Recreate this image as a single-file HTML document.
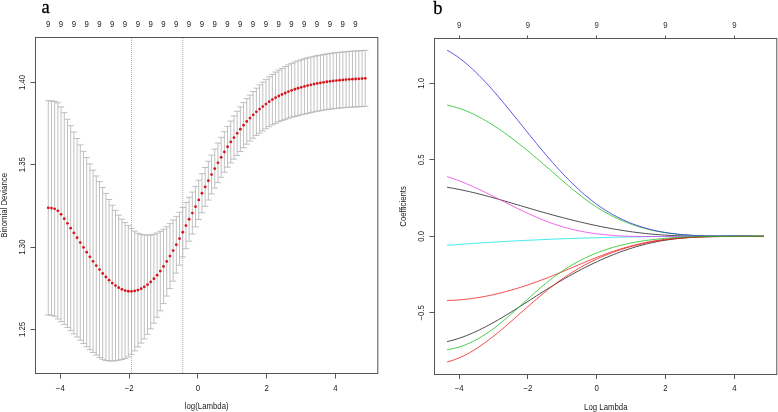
<!DOCTYPE html>
<html><head><meta charset="utf-8"><style>
html,body{margin:0;padding:0;background:#fff;}
body{width:778px;height:412px;overflow:hidden;position:relative;font-family:"Liberation Sans", sans-serif;}

</style></head><body>
<svg width="778" height="412" viewBox="0 0 778 412" style="position:absolute;left:0;top:0"><rect x="0" y="0" width="778" height="412" fill="#fff"/><path d="M48.25 100.69V314.91M45.08 100.69H51.42M45.08 314.91H51.42M51.45 100.84V315.31M48.28 100.84H54.62M48.28 315.31H54.62M54.65 101.37V316.31M51.48 101.37H57.82M51.48 316.31H57.82M57.86 102.72V318.97M54.69 102.72H61.03M54.69 318.97H61.03M61.06 106.91V321.70M57.89 106.91H64.23M57.89 321.70H64.23M64.26 112.72V324.57M61.09 112.72H67.43M61.09 324.57H67.43M67.46 119.25V327.44M64.29 119.25H70.63M64.29 327.44H70.63M70.66 125.68V330.61M67.49 125.68H73.83M67.49 330.61H73.83M73.87 131.99V333.91M70.70 131.99H77.04M70.70 333.91H77.04M77.07 138.49V337.02M73.90 138.49H80.24M73.90 337.02H80.24M80.27 144.89V340.22M77.10 144.89H83.44M77.10 340.22H83.44M83.47 151.33V343.46M80.30 151.33H86.64M80.30 343.46H86.64M86.67 157.60V346.82M83.50 157.60H89.84M83.50 346.82H89.84M89.88 163.94V349.76M86.71 163.94H93.05M86.71 349.76H93.05M93.08 170.13V352.46M89.91 170.13H96.25M89.91 352.46H96.25M96.28 175.99V355.11M93.11 175.99H99.45M93.11 355.11H99.45M99.48 181.62V357.58M96.31 181.62H102.65M96.31 357.58H102.65M102.68 187.56V359.30M99.51 187.56H105.85M99.51 359.30H105.85M105.89 193.42V360.55M102.72 193.42H109.06M102.72 360.55H109.06M109.09 199.47V360.95M105.92 199.47H112.26M105.92 360.95H112.26M112.29 205.23V360.95M109.12 205.23H115.46M109.12 360.95H115.46M115.49 210.39V360.75M112.32 210.39H118.66M112.32 360.75H118.66M118.69 215.12V360.18M115.52 215.12H121.86M115.52 360.18H121.86M121.90 219.18V359.52M118.73 219.18H125.07M118.73 359.52H125.07M125.10 222.57V358.58M121.93 222.57H128.27M121.93 358.58H128.27M128.30 225.55V356.95M125.13 225.55H131.47M125.13 356.95H131.47M131.50 228.38V354.37M128.33 228.38H134.67M128.33 354.37H134.67M134.70 231.08V350.87M131.53 231.08H137.87M131.53 350.87H137.87M137.91 233.26V346.85M134.74 233.26H141.08M134.74 346.85H141.08M141.11 234.34V343.08M137.94 234.34H144.28M137.94 343.08H144.28M144.31 234.98V338.92M141.14 234.98H147.48M141.14 338.92H147.48M147.51 235.02V334.35M144.34 235.02H150.68M144.34 334.35H150.68M150.71 235.05V328.80M147.54 235.05H153.88M147.54 328.80H153.88M153.92 234.25V323.22M150.75 234.25H157.09M150.75 323.22H157.09M157.12 232.99V317.26M153.95 232.99H160.29M153.95 317.26H160.29M160.32 231.32V310.79M157.15 231.32H163.49M157.15 310.79H163.49M163.52 229.30V303.59M160.35 229.30H166.69M160.35 303.59H166.69M166.72 226.70V296.06M163.55 226.70H169.89M163.55 296.06H169.89M169.93 223.62V288.59M166.76 223.62H173.10M166.76 288.59H173.10M173.13 220.02V281.18M169.96 220.02H176.30M169.96 281.18H176.30M176.33 216.38V273.15M173.16 216.38H179.50M173.16 273.15H179.50M179.53 212.23V265.19M176.36 212.23H182.70M176.36 265.19H182.70M182.73 207.45V257.01M179.56 207.45H185.90M179.56 257.01H185.90M185.94 202.41V248.71M182.77 202.41H189.11M182.77 248.71H189.11M189.14 197.30V241.21M185.97 197.30H192.31M185.97 241.21H192.31M192.34 192.08V234.11M189.17 192.08H195.51M189.17 234.11H195.51M195.54 186.42V226.85M192.37 186.42H198.71M192.37 226.85H198.71M198.74 180.19V219.57M195.57 180.19H201.91M195.57 219.57H201.91M201.95 173.69V212.78M198.78 173.69H205.12M198.78 212.78H205.12M205.15 167.49V206.29M201.98 167.49H208.32M201.98 206.29H208.32M208.35 161.26V200.06M205.18 161.26H211.52M205.18 200.06H211.52M211.55 155.16V193.96M208.38 155.16H214.72M208.38 193.96H214.72M214.76 149.10V188.16M211.59 149.10H217.93M211.59 188.16H217.93M217.96 143.10V182.64M214.79 143.10H221.13M214.79 182.64H221.13M221.16 137.33V177.37M217.99 137.33H224.33M217.99 177.37H224.33M224.36 131.72V172.26M221.19 131.72H227.53M221.19 172.26H227.53M227.56 126.35V167.20M224.39 126.35H230.73M224.39 167.20H230.73M230.77 121.03V162.86M227.60 121.03H233.94M227.60 162.86H233.94M233.97 115.92V159.14M230.80 115.92H237.14M230.80 159.14H237.14M237.17 111.25V155.41M234.00 111.25H240.34M234.00 155.41H240.34M240.37 106.92V151.51M237.20 106.92H243.54M237.20 151.51H243.54M243.57 102.59V147.77M240.40 102.59H246.74M240.40 147.77H246.74M246.78 98.64V144.23M243.61 98.64H249.95M243.61 144.23H249.95M249.98 95.08V141.06M246.81 95.08H253.15M246.81 141.06H253.15M253.18 91.53V138.21M250.01 91.53H256.35M250.01 138.21H256.35M256.38 88.16V135.43M253.21 88.16H259.55M253.21 135.43H259.55M259.58 84.87V133.24M256.41 84.87H262.75M256.41 133.24H262.75M262.79 82.12V130.97M259.62 82.12H265.96M259.62 130.97H265.96M265.99 79.36V128.74M262.82 79.36H269.16M262.82 128.74H269.16M269.19 76.71V126.71M266.02 76.71H272.36M266.02 126.71H272.36M272.39 74.41V124.81M269.22 74.41H275.56M269.22 124.81H275.56M275.59 72.12V123.32M272.42 72.12H278.76M272.42 123.32H278.76M278.80 70.21V121.82M275.63 70.21H281.97M275.63 121.82H281.97M282.00 68.45V120.48M278.83 68.45H285.17M278.83 120.48H285.17M285.20 66.58V119.38M282.03 66.58H288.37M282.03 119.38H288.37M288.40 64.94V118.16M285.23 64.94H291.57M285.23 118.16H291.57M291.60 63.39V117.21M288.43 63.39H294.77M288.43 117.21H294.77M294.81 62.04V116.44M291.64 62.04H297.98M291.64 116.44H297.98M298.01 60.87V115.67M294.84 60.87H301.18M294.84 115.67H301.18M301.21 59.80V114.81M298.04 59.80H304.38M298.04 114.81H304.38M304.41 58.70V114.10M301.24 58.70H307.58M301.24 114.10H307.58M307.61 57.85V113.35M304.44 57.85H310.78M304.44 113.35H310.78M310.82 57.05V112.65M307.65 57.05H313.99M307.65 112.65H313.99M314.02 56.30V111.90M310.85 56.30H317.19M310.85 111.90H317.19M317.22 55.66V111.26M314.05 55.66H320.39M314.05 111.26H320.39M320.42 55.13V110.73M317.25 55.13H323.59M317.25 110.73H323.59M323.62 54.52V110.16M320.45 54.52H326.79M320.45 110.16H326.79M326.83 53.93V109.59M323.66 53.93H330.00M323.66 109.59H330.00M330.03 53.45V109.15M326.86 53.45H333.20M326.86 109.15H333.20M333.23 53.03V108.77M330.06 53.03H336.40M330.06 108.77H336.40M336.43 52.65V108.41M333.26 52.65H339.60M333.26 108.41H339.60M339.63 52.31V108.10M336.46 52.31H342.80M336.46 108.10H342.80M342.84 51.99V107.82M339.67 51.99H346.01M339.67 107.82H346.01M346.04 51.68V107.53M342.87 51.68H349.21M342.87 107.53H349.21M349.24 51.39V107.26M346.07 51.39H352.41M346.07 107.26H352.41M352.44 51.18V107.08M349.27 51.18H355.61M349.27 107.08H355.61M355.64 51.02V106.94M352.47 51.02H358.81M352.47 106.94H358.81M358.85 50.83V106.78M355.68 50.83H362.02M355.68 106.78H362.02M362.05 50.59V106.57M358.88 50.59H365.22M358.88 106.57H365.22M365.25 50.30V106.30M362.08 50.30H368.42M362.08 106.30H368.42" stroke="#b0b0b0" stroke-width="0.8" fill="none"/><line x1="131.5" y1="38" x2="131.5" y2="373" stroke="#b0b0b0" stroke-width="1" stroke-dasharray="1 1"/><line x1="182.7" y1="38" x2="182.7" y2="373" stroke="#b0b0b0" stroke-width="1" stroke-dasharray="1 1"/><g fill="#d8141c"><circle cx="48.25" cy="207.80" r="1.4"/><circle cx="51.45" cy="208.07" r="1.4"/><circle cx="54.65" cy="208.84" r="1.4"/><circle cx="57.86" cy="210.85" r="1.4"/><circle cx="61.06" cy="214.30" r="1.4"/><circle cx="64.26" cy="218.65" r="1.4"/><circle cx="67.46" cy="223.34" r="1.4"/><circle cx="70.66" cy="228.15" r="1.4"/><circle cx="73.87" cy="232.95" r="1.4"/><circle cx="77.07" cy="237.75" r="1.4"/><circle cx="80.27" cy="242.56" r="1.4"/><circle cx="83.47" cy="247.39" r="1.4"/><circle cx="86.67" cy="252.21" r="1.4"/><circle cx="89.88" cy="256.85" r="1.4"/><circle cx="93.08" cy="261.29" r="1.4"/><circle cx="96.28" cy="265.55" r="1.4"/><circle cx="99.48" cy="269.60" r="1.4"/><circle cx="102.68" cy="273.43" r="1.4"/><circle cx="105.89" cy="276.98" r="1.4"/><circle cx="109.09" cy="280.21" r="1.4"/><circle cx="112.29" cy="283.09" r="1.4"/><circle cx="115.49" cy="285.57" r="1.4"/><circle cx="118.69" cy="287.65" r="1.4"/><circle cx="121.90" cy="289.35" r="1.4"/><circle cx="125.10" cy="290.57" r="1.4"/><circle cx="128.30" cy="291.25" r="1.4"/><circle cx="131.50" cy="291.37" r="1.4"/><circle cx="134.70" cy="290.97" r="1.4"/><circle cx="137.91" cy="290.06" r="1.4"/><circle cx="141.11" cy="288.71" r="1.4"/><circle cx="144.31" cy="286.95" r="1.4"/><circle cx="147.51" cy="284.69" r="1.4"/><circle cx="150.71" cy="281.92" r="1.4"/><circle cx="153.92" cy="278.73" r="1.4"/><circle cx="157.12" cy="275.13" r="1.4"/><circle cx="160.32" cy="271.05" r="1.4"/><circle cx="163.52" cy="266.45" r="1.4"/><circle cx="166.72" cy="261.38" r="1.4"/><circle cx="169.93" cy="256.10" r="1.4"/><circle cx="173.13" cy="250.60" r="1.4"/><circle cx="176.33" cy="244.77" r="1.4"/><circle cx="179.53" cy="238.71" r="1.4"/><circle cx="182.73" cy="232.23" r="1.4"/><circle cx="185.94" cy="225.56" r="1.4"/><circle cx="189.14" cy="219.26" r="1.4"/><circle cx="192.34" cy="213.09" r="1.4"/><circle cx="195.54" cy="206.63" r="1.4"/><circle cx="198.74" cy="199.88" r="1.4"/><circle cx="201.95" cy="193.23" r="1.4"/><circle cx="205.15" cy="186.89" r="1.4"/><circle cx="208.35" cy="180.66" r="1.4"/><circle cx="211.55" cy="174.56" r="1.4"/><circle cx="214.76" cy="168.63" r="1.4"/><circle cx="217.96" cy="162.87" r="1.4"/><circle cx="221.16" cy="157.35" r="1.4"/><circle cx="224.36" cy="151.99" r="1.4"/><circle cx="227.56" cy="146.77" r="1.4"/><circle cx="230.77" cy="141.95" r="1.4"/><circle cx="233.97" cy="137.53" r="1.4"/><circle cx="237.17" cy="133.33" r="1.4"/><circle cx="240.37" cy="129.22" r="1.4"/><circle cx="243.57" cy="125.18" r="1.4"/><circle cx="246.78" cy="121.43" r="1.4"/><circle cx="249.98" cy="118.07" r="1.4"/><circle cx="253.18" cy="114.87" r="1.4"/><circle cx="256.38" cy="111.79" r="1.4"/><circle cx="259.58" cy="109.06" r="1.4"/><circle cx="262.79" cy="106.55" r="1.4"/><circle cx="265.99" cy="104.05" r="1.4"/><circle cx="269.19" cy="101.71" r="1.4"/><circle cx="272.39" cy="99.61" r="1.4"/><circle cx="275.59" cy="97.72" r="1.4"/><circle cx="278.80" cy="96.02" r="1.4"/><circle cx="282.00" cy="94.47" r="1.4"/><circle cx="285.20" cy="92.98" r="1.4"/><circle cx="288.40" cy="91.55" r="1.4"/><circle cx="291.60" cy="90.30" r="1.4"/><circle cx="294.81" cy="89.24" r="1.4"/><circle cx="298.01" cy="88.27" r="1.4"/><circle cx="301.21" cy="87.30" r="1.4"/><circle cx="304.41" cy="86.40" r="1.4"/><circle cx="307.61" cy="85.60" r="1.4"/><circle cx="310.82" cy="84.85" r="1.4"/><circle cx="314.02" cy="84.10" r="1.4"/><circle cx="317.22" cy="83.46" r="1.4"/><circle cx="320.42" cy="82.93" r="1.4"/><circle cx="323.62" cy="82.34" r="1.4"/><circle cx="326.83" cy="81.76" r="1.4"/><circle cx="330.03" cy="81.30" r="1.4"/><circle cx="333.23" cy="80.90" r="1.4"/><circle cx="336.43" cy="80.53" r="1.4"/><circle cx="339.63" cy="80.21" r="1.4"/><circle cx="342.84" cy="79.91" r="1.4"/><circle cx="346.04" cy="79.60" r="1.4"/><circle cx="349.24" cy="79.33" r="1.4"/><circle cx="352.44" cy="79.13" r="1.4"/><circle cx="355.64" cy="78.98" r="1.4"/><circle cx="358.85" cy="78.80" r="1.4"/><circle cx="362.05" cy="78.58" r="1.4"/><circle cx="365.25" cy="78.30" r="1.4"/></g><rect x="35.5" y="37.5" width="342.3" height="336" fill="none" stroke="#555" stroke-width="1"/><path d="M60.50 373.5V378.5M129.50 373.5V378.5M197.50 373.5V378.5M266.50 373.5V378.5M335.50 373.5V378.5M30.5 329.50H35.5M30.5 247.50H35.5M30.5 164.50H35.5M30.5 82.50H35.5" stroke="#555" stroke-width="1" fill="none"/><path d="M447.10 187.27 L450.30 187.80 L453.50 188.36 L456.70 188.96 L459.90 189.59 L463.09 190.26 L466.29 190.95 L469.49 191.67 L472.69 192.42 L475.89 193.20 L479.09 193.99 L482.29 194.81 L485.49 195.65 L488.69 196.51 L491.89 197.39 L495.08 198.28 L498.28 199.18 L501.48 200.09 L504.68 201.02 L507.88 201.95 L511.08 202.89 L514.28 203.84 L517.48 204.78 L520.68 205.73 L523.88 206.68 L527.07 207.63 L530.27 208.57 L533.47 209.51 L536.67 210.44 L539.87 211.37 L543.07 212.28 L546.27 213.18 L549.47 214.08 L552.67 214.96 L555.87 215.82 L559.06 216.68 L562.26 217.52 L565.46 218.35 L568.66 219.17 L571.86 219.97 L575.06 220.76 L578.26 221.53 L581.46 222.29 L584.66 223.03 L587.86 223.75 L591.05 224.46 L594.25 225.15 L597.45 225.82 L600.65 226.48 L603.85 227.11 L607.05 227.73 L610.25 228.33 L613.45 228.91 L616.65 229.46 L619.85 230.00 L623.04 230.51 L626.24 231.01 L629.44 231.48 L632.64 231.93 L635.84 232.35 L639.04 232.76 L642.24 233.13 L645.44 233.49 L648.64 233.82 L651.84 234.12 L655.03 234.40 L658.23 234.65 L661.43 234.88 L664.63 235.09 L667.83 235.27 L671.03 235.44 L674.23 235.58 L677.43 235.71 L680.63 235.82 L683.83 235.91 L687.02 235.99 L690.22 236.06 L693.42 236.11 L696.62 236.15 L699.82 236.18 L703.02 236.20 L706.22 236.22 L709.42 236.23 L712.62 236.23 L715.82 236.22 L719.01 236.22 L722.21 236.21 L725.41 236.20 L728.61 236.19 L731.81 236.18 L735.01 236.17 L738.21 236.17 L741.41 236.17 L744.61 236.18 L747.81 236.19 L751.00 236.21 L754.20 236.24 L757.40 236.28 L760.60 236.34 L763.80 236.40" stroke="#202020" stroke-width="0.8" fill="none"/><path d="M447.10 300.48 L450.30 300.39 L453.50 300.26 L456.70 300.07 L459.90 299.84 L463.09 299.55 L466.29 299.22 L469.49 298.85 L472.69 298.42 L475.89 297.96 L479.09 297.45 L482.29 296.90 L485.49 296.30 L488.69 295.67 L491.89 294.99 L495.08 294.28 L498.28 293.52 L501.48 292.73 L504.68 291.91 L507.88 291.04 L511.08 290.15 L514.28 289.21 L517.48 288.25 L520.68 287.25 L523.88 286.22 L527.07 285.17 L530.27 284.08 L533.47 282.96 L536.67 281.82 L539.87 280.64 L543.07 279.45 L546.27 278.22 L549.47 276.98 L552.67 275.70 L555.87 274.41 L559.06 273.10 L562.26 271.77 L565.46 270.42 L568.66 269.07 L571.86 267.72 L575.06 266.36 L578.26 265.00 L581.46 263.65 L584.66 262.31 L587.86 260.98 L591.05 259.67 L594.25 258.38 L597.45 257.12 L600.65 255.89 L603.85 254.69 L607.05 253.52 L610.25 252.39 L613.45 251.30 L616.65 250.25 L619.85 249.23 L623.04 248.25 L626.24 247.31 L629.44 246.42 L632.64 245.56 L635.84 244.74 L639.04 243.97 L642.24 243.24 L645.44 242.55 L648.64 241.91 L651.84 241.31 L655.03 240.75 L658.23 240.24 L661.43 239.77 L664.63 239.34 L667.83 238.95 L671.03 238.60 L674.23 238.28 L677.43 238.00 L680.63 237.74 L683.83 237.52 L687.02 237.32 L690.22 237.15 L693.42 237.00 L696.62 236.88 L699.82 236.77 L703.02 236.69 L706.22 236.62 L709.42 236.56 L712.62 236.52 L715.82 236.49 L719.01 236.47 L722.21 236.46 L725.41 236.45 L728.61 236.45 L731.81 236.45 L735.01 236.45 L738.21 236.45 L741.41 236.45 L744.61 236.44 L747.81 236.42 L751.00 236.40 L754.20 236.36 L757.40 236.32 L760.60 236.26 L763.80 236.18" stroke="#f02020" stroke-width="0.8" fill="none"/><path d="M447.10 105.05 L450.30 105.75 L453.50 106.57 L456.70 107.50 L459.90 108.55 L463.09 109.70 L466.29 110.96 L469.49 112.32 L472.69 113.78 L475.89 115.33 L479.09 116.97 L482.29 118.70 L485.49 120.52 L488.69 122.42 L491.89 124.39 L495.08 126.44 L498.28 128.56 L501.48 130.75 L504.68 133.00 L507.88 135.31 L511.08 137.68 L514.28 140.11 L517.48 142.58 L520.68 145.10 L523.88 147.67 L527.07 150.27 L530.27 152.91 L533.47 155.59 L536.67 158.29 L539.87 161.03 L543.07 163.78 L546.27 166.56 L549.47 169.35 L552.67 172.15 L555.87 174.94 L559.06 177.72 L562.26 180.49 L565.46 183.24 L568.66 185.95 L571.86 188.62 L575.06 191.24 L578.26 193.81 L581.46 196.31 L584.66 198.74 L587.86 201.10 L591.05 203.36 L594.25 205.53 L597.45 207.61 L600.65 209.59 L603.85 211.48 L607.05 213.28 L610.25 215.00 L613.45 216.63 L616.65 218.17 L619.85 219.63 L623.04 221.01 L626.24 222.31 L629.44 223.54 L632.64 224.69 L635.84 225.77 L639.04 226.78 L642.24 227.72 L645.44 228.60 L648.64 229.41 L651.84 230.16 L655.03 230.85 L658.23 231.49 L661.43 232.07 L664.63 232.59 L667.83 233.07 L671.03 233.51 L674.23 233.89 L677.43 234.24 L680.63 234.55 L683.83 234.82 L687.02 235.05 L690.22 235.25 L693.42 235.43 L696.62 235.57 L699.82 235.69 L703.02 235.79 L706.22 235.86 L709.42 235.92 L712.62 235.97 L715.82 236.00 L719.01 236.02 L722.21 236.03 L725.41 236.04 L728.61 236.04 L731.81 236.04 L735.01 236.04 L738.21 236.05 L741.41 236.06 L744.61 236.09 L747.81 236.12 L751.00 236.17 L754.20 236.23 L757.40 236.31 L760.60 236.42 L763.80 236.54" stroke="#20c020" stroke-width="0.8" fill="none"/><path d="M447.10 50.29 L450.30 52.06 L453.50 54.02 L456.70 56.16 L459.90 58.47 L463.09 60.95 L466.29 63.58 L469.49 66.36 L472.69 69.27 L475.89 72.32 L479.09 75.49 L482.29 78.76 L485.49 82.15 L488.69 85.63 L491.89 89.20 L495.08 92.85 L498.28 96.56 L501.48 100.35 L504.68 104.18 L507.88 108.07 L511.08 111.99 L514.28 115.94 L517.48 119.91 L520.68 123.89 L523.88 127.88 L527.07 131.86 L530.27 135.83 L533.47 139.78 L536.67 143.70 L539.87 147.58 L543.07 151.42 L546.27 155.20 L549.47 158.92 L552.67 162.58 L555.87 166.17 L559.06 169.69 L562.26 173.13 L565.46 176.50 L568.66 179.77 L571.86 182.96 L575.06 186.06 L578.26 189.06 L581.46 191.96 L584.66 194.76 L587.86 197.45 L591.05 200.03 L594.25 202.49 L597.45 204.84 L600.65 207.07 L603.85 209.20 L607.05 211.21 L610.25 213.12 L613.45 214.93 L616.65 216.65 L619.85 218.26 L623.04 219.79 L626.24 221.22 L629.44 222.56 L632.64 223.82 L635.84 225.00 L639.04 226.10 L642.24 227.12 L645.44 228.07 L648.64 228.95 L651.84 229.76 L655.03 230.50 L658.23 231.19 L661.43 231.81 L664.63 232.37 L667.83 232.88 L671.03 233.34 L674.23 233.75 L677.43 234.12 L680.63 234.44 L683.83 234.72 L687.02 234.96 L690.22 235.17 L693.42 235.35 L696.62 235.49 L699.82 235.61 L703.02 235.71 L706.22 235.78 L709.42 235.84 L712.62 235.88 L715.82 235.91 L719.01 235.93 L722.21 235.94 L725.41 235.94 L728.61 235.94 L731.81 235.95 L735.01 235.96 L738.21 235.97 L741.41 235.99 L744.61 236.03 L747.81 236.08 L751.00 236.14 L754.20 236.23 L757.40 236.34 L760.60 236.48 L763.80 236.64" stroke="#3030e0" stroke-width="0.8" fill="none"/><path d="M447.10 245.34 L450.30 245.09 L453.50 244.85 L456.70 244.61 L459.90 244.37 L463.09 244.14 L466.29 243.91 L469.49 243.69 L472.69 243.47 L475.89 243.25 L479.09 243.04 L482.29 242.83 L485.49 242.63 L488.69 242.43 L491.89 242.23 L495.08 242.04 L498.28 241.85 L501.48 241.67 L504.68 241.48 L507.88 241.31 L511.08 241.13 L514.28 240.96 L517.48 240.79 L520.68 240.63 L523.88 240.47 L527.07 240.31 L530.27 240.16 L533.47 240.01 L536.67 239.87 L539.87 239.72 L543.07 239.58 L546.27 239.45 L549.47 239.31 L552.67 239.18 L555.87 239.06 L559.06 238.94 L562.26 238.82 L565.46 238.70 L568.66 238.58 L571.86 238.47 L575.06 238.37 L578.26 238.26 L581.46 238.16 L584.66 238.06 L587.86 237.97 L591.05 237.87 L594.25 237.78 L597.45 237.70 L600.65 237.61 L603.85 237.53 L607.05 237.45 L610.25 237.38 L613.45 237.30 L616.65 237.23 L619.85 237.17 L623.04 237.10 L626.24 237.04 L629.44 236.98 L632.64 236.92 L635.84 236.87 L639.04 236.81 L642.24 236.76 L645.44 236.72 L648.64 236.67 L651.84 236.63 L655.03 236.59 L658.23 236.55 L661.43 236.52 L664.63 236.48 L667.83 236.45 L671.03 236.42 L674.23 236.39 L677.43 236.37 L680.63 236.35 L683.83 236.33 L687.02 236.31 L690.22 236.29 L693.42 236.28 L696.62 236.27 L699.82 236.25 L703.02 236.25 L706.22 236.24 L709.42 236.23 L712.62 236.23 L715.82 236.23 L719.01 236.23 L722.21 236.23 L725.41 236.24 L728.61 236.24 L731.81 236.25 L735.01 236.26 L738.21 236.27 L741.41 236.28 L744.61 236.30 L747.81 236.31 L751.00 236.33 L754.20 236.35 L757.40 236.37 L760.60 236.39 L763.80 236.41" stroke="#10e8e8" stroke-width="0.8" fill="none"/><path d="M447.10 176.61 L450.30 177.62 L453.50 178.69 L456.70 179.84 L459.90 181.05 L463.09 182.32 L466.29 183.64 L469.49 185.01 L472.69 186.43 L475.89 187.88 L479.09 189.38 L482.29 190.90 L485.49 192.45 L488.69 194.02 L491.89 195.61 L495.08 197.21 L498.28 198.82 L501.48 200.43 L504.68 202.04 L507.88 203.65 L511.08 205.25 L514.28 206.83 L517.48 208.41 L520.68 209.96 L523.88 211.49 L527.07 212.99 L530.27 214.46 L533.47 215.90 L536.67 217.30 L539.87 218.65 L543.07 219.97 L546.27 221.23 L549.47 222.44 L552.67 223.59 L555.87 224.69 L559.06 225.72 L562.26 226.69 L565.46 227.60 L568.66 228.46 L571.86 229.26 L575.06 230.01 L578.26 230.70 L581.46 231.35 L584.66 231.94 L587.86 232.49 L591.05 233.00 L594.25 233.46 L597.45 233.89 L600.65 234.27 L603.85 234.62 L607.05 234.93 L610.25 235.21 L613.45 235.45 L616.65 235.67 L619.85 235.85 L623.04 236.01 L626.24 236.15 L629.44 236.26 L632.64 236.36 L635.84 236.43 L639.04 236.49 L642.24 236.53 L645.44 236.55 L648.64 236.57 L651.84 236.57 L655.03 236.57 L658.23 236.56 L661.43 236.54 L664.63 236.52 L667.83 236.50 L671.03 236.48 L674.23 236.46 L677.43 236.44 L680.63 236.42 L683.83 236.39 L687.02 236.37 L690.22 236.35 L693.42 236.33 L696.62 236.31 L699.82 236.29 L703.02 236.27 L706.22 236.26 L709.42 236.24 L712.62 236.23 L715.82 236.22 L719.01 236.21 L722.21 236.21 L725.41 236.20 L728.61 236.20 L731.81 236.21 L735.01 236.21 L738.21 236.23 L741.41 236.24 L744.61 236.26 L747.81 236.28 L751.00 236.31 L754.20 236.34 L757.40 236.38 L760.60 236.42 L763.80 236.47" stroke="#e840e8" stroke-width="0.8" fill="none"/><path d="M447.10 341.59 L450.30 340.84 L453.50 339.99 L456.70 339.04 L459.90 338.00 L463.09 336.88 L466.29 335.67 L469.49 334.37 L472.69 333.01 L475.89 331.56 L479.09 330.06 L482.29 328.48 L485.49 326.85 L488.69 325.16 L491.89 323.42 L495.08 321.63 L498.28 319.79 L501.48 317.92 L504.68 316.00 L507.88 314.06 L511.08 312.09 L514.28 310.09 L517.48 308.08 L520.68 306.04 L523.88 304.00 L527.07 301.95 L530.27 299.89 L533.47 297.83 L536.67 295.78 L539.87 293.73 L543.07 291.70 L546.27 289.68 L549.47 287.69 L552.67 285.71 L555.87 283.77 L559.06 281.85 L562.26 279.97 L565.46 278.11 L568.66 276.29 L571.86 274.51 L575.06 272.75 L578.26 271.04 L581.46 269.35 L584.66 267.71 L587.86 266.10 L591.05 264.52 L594.25 262.99 L597.45 261.49 L600.65 260.04 L603.85 258.62 L607.05 257.25 L610.25 255.92 L613.45 254.63 L616.65 253.38 L619.85 252.18 L623.04 251.02 L626.24 249.90 L629.44 248.84 L632.64 247.82 L635.84 246.84 L639.04 245.92 L642.24 245.04 L645.44 244.22 L648.64 243.44 L651.84 242.71 L655.03 242.04 L658.23 241.42 L661.43 240.84 L664.63 240.32 L667.83 239.83 L671.03 239.39 L674.23 238.99 L677.43 238.63 L680.63 238.31 L683.83 238.02 L687.02 237.76 L690.22 237.53 L693.42 237.34 L696.62 237.16 L699.82 237.02 L703.02 236.90 L706.22 236.79 L709.42 236.71 L712.62 236.64 L715.82 236.59 L719.01 236.55 L722.21 236.52 L725.41 236.50 L728.61 236.49 L731.81 236.48 L735.01 236.48 L738.21 236.47 L741.41 236.47 L744.61 236.46 L747.81 236.44 L751.00 236.42 L754.20 236.39 L757.40 236.35 L760.60 236.30 L763.80 236.23" stroke="#202020" stroke-width="0.8" fill="none"/><path d="M447.10 361.89 L450.30 361.07 L453.50 360.07 L456.70 358.91 L459.90 357.59 L463.09 356.12 L466.29 354.52 L469.49 352.77 L472.69 350.90 L475.89 348.92 L479.09 346.82 L482.29 344.62 L485.49 342.32 L488.69 339.94 L491.89 337.48 L495.08 334.95 L498.28 332.35 L501.48 329.70 L504.68 326.99 L507.88 324.25 L511.08 321.48 L514.28 318.68 L517.48 315.86 L520.68 313.03 L523.88 310.20 L527.07 307.38 L530.27 304.57 L533.47 301.78 L536.67 299.02 L539.87 296.29 L543.07 293.62 L546.27 290.99 L549.47 288.42 L552.67 285.93 L555.87 283.50 L559.06 281.16 L562.26 278.89 L565.46 276.70 L568.66 274.59 L571.86 272.55 L575.06 270.58 L578.26 268.68 L581.46 266.85 L584.66 265.10 L587.86 263.41 L591.05 261.78 L594.25 260.22 L597.45 258.73 L600.65 257.30 L603.85 255.92 L607.05 254.61 L610.25 253.36 L613.45 252.17 L616.65 251.03 L619.85 249.95 L623.04 248.92 L626.24 247.94 L629.44 247.02 L632.64 246.14 L635.84 245.32 L639.04 244.54 L642.24 243.81 L645.44 243.12 L648.64 242.48 L651.84 241.88 L655.03 241.32 L658.23 240.80 L661.43 240.32 L664.63 239.88 L667.83 239.47 L671.03 239.10 L674.23 238.75 L677.43 238.44 L680.63 238.16 L683.83 237.91 L687.02 237.68 L690.22 237.48 L693.42 237.30 L696.62 237.15 L699.82 237.01 L703.02 236.89 L706.22 236.79 L709.42 236.71 L712.62 236.64 L715.82 236.58 L719.01 236.54 L722.21 236.50 L725.41 236.47 L728.61 236.45 L731.81 236.44 L735.01 236.43 L738.21 236.42 L741.41 236.41 L744.61 236.40 L747.81 236.39 L751.00 236.38 L754.20 236.36 L757.40 236.33 L760.60 236.29 L763.80 236.25" stroke="#f02020" stroke-width="0.8" fill="none"/><path d="M447.10 349.55 L450.30 349.12 L453.50 348.51 L456.70 347.75 L459.90 346.82 L463.09 345.74 L466.29 344.51 L469.49 343.13 L472.69 341.61 L475.89 339.95 L479.09 338.17 L482.29 336.25 L485.49 334.22 L488.69 332.07 L491.89 329.80 L495.08 327.43 L498.28 324.95 L501.48 322.37 L504.68 319.71 L507.88 316.96 L511.08 314.15 L514.28 311.30 L517.48 308.41 L520.68 305.50 L523.88 302.58 L527.07 299.67 L530.27 296.79 L533.47 293.93 L536.67 291.11 L539.87 288.35 L543.07 285.63 L546.27 282.99 L549.47 280.42 L552.67 277.94 L555.87 275.55 L559.06 273.26 L562.26 271.07 L565.46 268.97 L568.66 266.97 L571.86 265.05 L575.06 263.22 L578.26 261.48 L581.46 259.82 L584.66 258.24 L587.86 256.74 L591.05 255.31 L594.25 253.96 L597.45 252.68 L600.65 251.47 L603.85 250.33 L607.05 249.25 L610.25 248.23 L613.45 247.28 L616.65 246.38 L619.85 245.54 L623.04 244.75 L626.24 244.02 L629.44 243.33 L632.64 242.69 L635.84 242.09 L639.04 241.54 L642.24 241.03 L645.44 240.55 L648.64 240.12 L651.84 239.71 L655.03 239.33 L658.23 238.99 L661.43 238.67 L664.63 238.38 L667.83 238.12 L671.03 237.88 L674.23 237.67 L677.43 237.47 L680.63 237.30 L683.83 237.15 L687.02 237.01 L690.22 236.90 L693.42 236.80 L696.62 236.71 L699.82 236.64 L703.02 236.58 L706.22 236.53 L709.42 236.50 L712.62 236.47 L715.82 236.45 L719.01 236.43 L722.21 236.42 L725.41 236.41 L728.61 236.41 L731.81 236.41 L735.01 236.41 L738.21 236.41 L741.41 236.40 L744.61 236.39 L747.81 236.38 L751.00 236.36 L754.20 236.34 L757.40 236.31 L760.60 236.26 L763.80 236.21" stroke="#20c020" stroke-width="0.8" fill="none"/><rect x="434.5" y="38.5" width="342.3" height="336" fill="none" stroke="#555" stroke-width="1"/><path d="M459.50 374.5V379M459.50 35.5V38.5M527.50 374.5V379M527.50 35.5V38.5M596.50 374.5V379M596.50 35.5V38.5M665.50 374.5V379M665.50 35.5V38.5M734.50 374.5V379M734.50 35.5V38.5M429.5 83.50H434.5M429.5 159.50H434.5M429.5 236.50H434.5M429.5 312.50H434.5" stroke="#555" stroke-width="1" fill="none"/></svg><svg width="778" height="412" viewBox="0 0 778 412" style="position:absolute;left:0;top:0;will-change:transform"><text x="0" y="0" text-anchor="middle" font-family='"Liberation Sans", sans-serif' font-size="8.4" fill="#1a1a1a" font-weight="normal" transform="translate(60.30 390.50) scale(0.93 1)">−4</text><text x="0" y="0" text-anchor="middle" font-family='"Liberation Sans", sans-serif' font-size="8.4" fill="#1a1a1a" font-weight="normal" transform="translate(129.10 390.50) scale(0.93 1)">−2</text><text x="0" y="0" text-anchor="middle" font-family='"Liberation Sans", sans-serif' font-size="8.4" fill="#1a1a1a" font-weight="normal" transform="translate(197.90 390.50) scale(0.93 1)">0</text><text x="0" y="0" text-anchor="middle" font-family='"Liberation Sans", sans-serif' font-size="8.4" fill="#1a1a1a" font-weight="normal" transform="translate(266.70 390.50) scale(0.93 1)">2</text><text x="0" y="0" text-anchor="middle" font-family='"Liberation Sans", sans-serif' font-size="8.4" fill="#1a1a1a" font-weight="normal" transform="translate(335.50 390.50) scale(0.93 1)">4</text><text x="0" y="0" text-anchor="middle" font-family='"Liberation Sans", sans-serif' font-size="8.4" fill="#1a1a1a" font-weight="normal" transform="translate(459.20 390.80) scale(0.93 1)">−4</text><text x="0" y="0" text-anchor="middle" font-family='"Liberation Sans", sans-serif' font-size="8.4" fill="#1a1a1a" font-weight="normal" transform="translate(527.98 390.80) scale(0.93 1)">−2</text><text x="0" y="0" text-anchor="middle" font-family='"Liberation Sans", sans-serif' font-size="8.4" fill="#1a1a1a" font-weight="normal" transform="translate(596.76 390.80) scale(0.93 1)">0</text><text x="0" y="0" text-anchor="middle" font-family='"Liberation Sans", sans-serif' font-size="8.4" fill="#1a1a1a" font-weight="normal" transform="translate(665.54 390.80) scale(0.93 1)">2</text><text x="0" y="0" text-anchor="middle" font-family='"Liberation Sans", sans-serif' font-size="8.4" fill="#1a1a1a" font-weight="normal" transform="translate(734.32 390.80) scale(0.93 1)">4</text><text x="0" y="0" text-anchor="middle" font-family='"Liberation Sans", sans-serif' font-size="8.4" fill="#1a1a1a" font-weight="normal" transform="translate(206.70 408.90) scale(0.93 1)">log(Lambda)</text><text x="0" y="0" text-anchor="middle" font-family='"Liberation Sans", sans-serif' font-size="8.4" fill="#1a1a1a" font-weight="normal" transform="translate(605.80 410.00) scale(0.93 1)">Log Lambda</text><text x="0" y="0" text-anchor="middle" font-family='"Liberation Sans", sans-serif' font-size="8.4" fill="#1a1a1a" font-weight="normal" transform="translate(25.00 329.40) rotate(-90) scale(0.93 1)">1.25</text><text x="0" y="0" text-anchor="middle" font-family='"Liberation Sans", sans-serif' font-size="8.4" fill="#1a1a1a" font-weight="normal" transform="translate(25.00 247.07) rotate(-90) scale(0.93 1)">1.30</text><text x="0" y="0" text-anchor="middle" font-family='"Liberation Sans", sans-serif' font-size="8.4" fill="#1a1a1a" font-weight="normal" transform="translate(25.00 164.73) rotate(-90) scale(0.93 1)">1.35</text><text x="0" y="0" text-anchor="middle" font-family='"Liberation Sans", sans-serif' font-size="8.4" fill="#1a1a1a" font-weight="normal" transform="translate(25.00 82.40) rotate(-90) scale(0.93 1)">1.40</text><text x="0" y="0" text-anchor="middle" font-family='"Liberation Sans", sans-serif' font-size="8.4" fill="#1a1a1a" font-weight="normal" transform="translate(424.00 83.40) rotate(-90) scale(0.93 1)">1.0</text><text x="0" y="0" text-anchor="middle" font-family='"Liberation Sans", sans-serif' font-size="8.4" fill="#1a1a1a" font-weight="normal" transform="translate(424.00 159.85) rotate(-90) scale(0.93 1)">0.5</text><text x="0" y="0" text-anchor="middle" font-family='"Liberation Sans", sans-serif' font-size="8.4" fill="#1a1a1a" font-weight="normal" transform="translate(424.00 236.30) rotate(-90) scale(0.93 1)">0.0</text><text x="0" y="0" text-anchor="middle" font-family='"Liberation Sans", sans-serif' font-size="8.4" fill="#1a1a1a" font-weight="normal" transform="translate(424.00 312.75) rotate(-90) scale(0.93 1)">−0.5</text><text x="0" y="0" text-anchor="middle" font-family='"Liberation Sans", sans-serif' font-size="8.4" fill="#1a1a1a" font-weight="normal" transform="translate(6.60 205.30) rotate(-90) scale(0.93 1)">Binomial Deviance</text><text x="0" y="0" text-anchor="middle" font-family='"Liberation Sans", sans-serif' font-size="8.4" fill="#1a1a1a" font-weight="normal" transform="translate(405.90 206.40) rotate(-90) scale(0.93 1)">Coefficients</text><text x="0" y="0" text-anchor="middle" font-family='"Liberation Sans", sans-serif' font-size="8.4" fill="#222" font-weight="normal" transform="translate(48.20 26.60) scale(0.93 1)">9</text><text x="0" y="0" text-anchor="middle" font-family='"Liberation Sans", sans-serif' font-size="8.4" fill="#222" font-weight="normal" transform="translate(61.00 26.60) scale(0.93 1)">9</text><text x="0" y="0" text-anchor="middle" font-family='"Liberation Sans", sans-serif' font-size="8.4" fill="#222" font-weight="normal" transform="translate(73.80 26.60) scale(0.93 1)">9</text><text x="0" y="0" text-anchor="middle" font-family='"Liberation Sans", sans-serif' font-size="8.4" fill="#222" font-weight="normal" transform="translate(86.60 26.60) scale(0.93 1)">9</text><text x="0" y="0" text-anchor="middle" font-family='"Liberation Sans", sans-serif' font-size="8.4" fill="#222" font-weight="normal" transform="translate(99.40 26.60) scale(0.93 1)">9</text><text x="0" y="0" text-anchor="middle" font-family='"Liberation Sans", sans-serif' font-size="8.4" fill="#222" font-weight="normal" transform="translate(112.20 26.60) scale(0.93 1)">9</text><text x="0" y="0" text-anchor="middle" font-family='"Liberation Sans", sans-serif' font-size="8.4" fill="#222" font-weight="normal" transform="translate(125.00 26.60) scale(0.93 1)">9</text><text x="0" y="0" text-anchor="middle" font-family='"Liberation Sans", sans-serif' font-size="8.4" fill="#222" font-weight="normal" transform="translate(137.80 26.60) scale(0.93 1)">9</text><text x="0" y="0" text-anchor="middle" font-family='"Liberation Sans", sans-serif' font-size="8.4" fill="#222" font-weight="normal" transform="translate(150.60 26.60) scale(0.93 1)">9</text><text x="0" y="0" text-anchor="middle" font-family='"Liberation Sans", sans-serif' font-size="8.4" fill="#222" font-weight="normal" transform="translate(163.40 26.60) scale(0.93 1)">9</text><text x="0" y="0" text-anchor="middle" font-family='"Liberation Sans", sans-serif' font-size="8.4" fill="#222" font-weight="normal" transform="translate(176.20 26.60) scale(0.93 1)">9</text><text x="0" y="0" text-anchor="middle" font-family='"Liberation Sans", sans-serif' font-size="8.4" fill="#222" font-weight="normal" transform="translate(189.00 26.60) scale(0.93 1)">9</text><text x="0" y="0" text-anchor="middle" font-family='"Liberation Sans", sans-serif' font-size="8.4" fill="#222" font-weight="normal" transform="translate(201.80 26.60) scale(0.93 1)">9</text><text x="0" y="0" text-anchor="middle" font-family='"Liberation Sans", sans-serif' font-size="8.4" fill="#222" font-weight="normal" transform="translate(214.60 26.60) scale(0.93 1)">9</text><text x="0" y="0" text-anchor="middle" font-family='"Liberation Sans", sans-serif' font-size="8.4" fill="#222" font-weight="normal" transform="translate(227.40 26.60) scale(0.93 1)">9</text><text x="0" y="0" text-anchor="middle" font-family='"Liberation Sans", sans-serif' font-size="8.4" fill="#222" font-weight="normal" transform="translate(240.20 26.60) scale(0.93 1)">9</text><text x="0" y="0" text-anchor="middle" font-family='"Liberation Sans", sans-serif' font-size="8.4" fill="#222" font-weight="normal" transform="translate(253.00 26.60) scale(0.93 1)">9</text><text x="0" y="0" text-anchor="middle" font-family='"Liberation Sans", sans-serif' font-size="8.4" fill="#222" font-weight="normal" transform="translate(265.80 26.60) scale(0.93 1)">9</text><text x="0" y="0" text-anchor="middle" font-family='"Liberation Sans", sans-serif' font-size="8.4" fill="#222" font-weight="normal" transform="translate(278.60 26.60) scale(0.93 1)">9</text><text x="0" y="0" text-anchor="middle" font-family='"Liberation Sans", sans-serif' font-size="8.4" fill="#222" font-weight="normal" transform="translate(291.40 26.60) scale(0.93 1)">9</text><text x="0" y="0" text-anchor="middle" font-family='"Liberation Sans", sans-serif' font-size="8.4" fill="#222" font-weight="normal" transform="translate(304.20 26.60) scale(0.93 1)">9</text><text x="0" y="0" text-anchor="middle" font-family='"Liberation Sans", sans-serif' font-size="8.4" fill="#222" font-weight="normal" transform="translate(317.00 26.60) scale(0.93 1)">9</text><text x="0" y="0" text-anchor="middle" font-family='"Liberation Sans", sans-serif' font-size="8.4" fill="#222" font-weight="normal" transform="translate(329.80 26.60) scale(0.93 1)">9</text><text x="0" y="0" text-anchor="middle" font-family='"Liberation Sans", sans-serif' font-size="8.4" fill="#222" font-weight="normal" transform="translate(342.60 26.60) scale(0.93 1)">9</text><text x="0" y="0" text-anchor="middle" font-family='"Liberation Sans", sans-serif' font-size="8.4" fill="#222" font-weight="normal" transform="translate(355.40 26.60) scale(0.93 1)">9</text><text x="0" y="0" text-anchor="middle" font-family='"Liberation Sans", sans-serif' font-size="8.4" fill="#333" font-weight="normal" transform="translate(459.20 27.80) scale(0.93 1)">9</text><text x="0" y="0" text-anchor="middle" font-family='"Liberation Sans", sans-serif' font-size="8.4" fill="#333" font-weight="normal" transform="translate(527.98 27.80) scale(0.93 1)">9</text><text x="0" y="0" text-anchor="middle" font-family='"Liberation Sans", sans-serif' font-size="8.4" fill="#333" font-weight="normal" transform="translate(596.76 27.80) scale(0.93 1)">9</text><text x="0" y="0" text-anchor="middle" font-family='"Liberation Sans", sans-serif' font-size="8.4" fill="#333" font-weight="normal" transform="translate(665.54 27.80) scale(0.93 1)">9</text><text x="0" y="0" text-anchor="middle" font-family='"Liberation Sans", sans-serif' font-size="8.4" fill="#333" font-weight="normal" transform="translate(734.32 27.80) scale(0.93 1)">9</text><text x="0" y="0" text-anchor="start" font-family='"Liberation Serif", serif' font-size="18.5" fill="#000" font-weight="normal" transform="translate(41.50 13.10)" stroke="#000" stroke-width="0.3">a</text><text x="0" y="0" text-anchor="start" font-family='"Liberation Serif", serif' font-size="18.5" fill="#000" font-weight="normal" transform="translate(433.20 14.00)" stroke="#000" stroke-width="0.3">b</text></svg>
</body></html>
